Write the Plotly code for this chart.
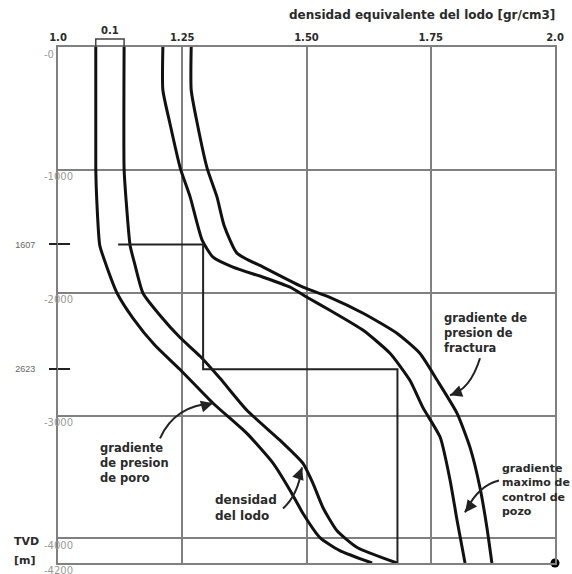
import plotly.graph_objects as go

# ---------------- data (TVD in metres, positive downward) ----------------
pore_x = [1.076, 1.076, 1.078, 1.084, 1.097, 1.119, 1.151, 1.195, 1.245, 1.312, 1.380, 1.433, 1.467, 1.493, 1.527, 1.567, 1.632]
pore_tvd = [0, 994, 1246, 1613, 1776, 2004, 2208, 2428, 2623, 2900, 3145, 3389, 3609, 3797, 3993, 4099, 4200]

mud_x = [1.133, 1.133, 1.137, 1.145, 1.155, 1.171, 1.205, 1.245, 1.286, 1.326, 1.380, 1.447, 1.493, 1.513, 1.533, 1.561, 1.602, 1.682]
mud_tvd = [0, 994, 1246, 1613, 1776, 2004, 2183, 2363, 2517, 2697, 2957, 3202, 3389, 3552, 3748, 3935, 4074, 4200]

ctrl_x = [1.211, 1.211, 1.225, 1.246, 1.266, 1.290, 1.312, 1.352, 1.413, 1.467, 1.501, 1.547, 1.614, 1.668, 1.708, 1.734, 1.769, 1.789, 1.803, 1.819]
ctrl_tvd = [0, 350, 619, 986, 1222, 1572, 1711, 1792, 1874, 1955, 2037, 2143, 2306, 2493, 2713, 2933, 3177, 3528, 3854, 4200]

frac_x = [1.268, 1.268, 1.280, 1.300, 1.320, 1.334, 1.360, 1.413, 1.493, 1.547, 1.614, 1.682, 1.728, 1.763, 1.803, 1.829, 1.849, 1.863, 1.873]
frac_tvd = [0, 350, 619, 986, 1222, 1450, 1678, 1792, 1955, 2037, 2167, 2330, 2493, 2713, 2982, 3259, 3585, 3911, 4200]

step_x = [1.121, 1.292, 1.292, 1.683, 1.683]
step_tvd = [1607, 1607, 2623, 2623, 4200]

x_ticks = [1.0, 1.25, 1.5, 1.75, 2.0]
x_ticktext = ["1.0", "1.25", "1.50", "1.75", "2.0"]
y_grid = [0, 1000, 2000, 3000, 4000, 4200]
y_gridtext = ["-0", "-1000", "-2000", "-3000", "-4000", "-4200"]
casing_tvd = [1607, 2623]
casing_text = ["1607", "2623"]

GRID = "#808080"
INK = "#111111"
TXT = "#2a2a2a"
FONT = "DejaVu Sans"

fig = go.Figure()
for xs, ds in [(pore_x, pore_tvd), (mud_x, mud_tvd), (ctrl_x, ctrl_tvd), (frac_x, frac_tvd)]:
    fig.add_trace(go.Scatter(x=xs, y=[-d for d in ds], mode="lines",
                             line=dict(color=INK, width=3, shape="spline", smoothing=0.55),
                             showlegend=False, hoverinfo="skip"))
fig.add_trace(go.Scatter(x=step_x, y=[-d for d in step_tvd], mode="lines",
                         line=dict(color="#222222", width=2), showlegend=False, hoverinfo="skip"))
fig.add_trace(go.Scatter(x=[x_ticks[-1]], y=[-y_grid[-1]], mode="markers",
                         marker=dict(color="black", size=9), cliponaxis=False,
                         showlegend=False, hoverinfo="skip"))
# carriers for the casing-depth tick axes
fig.add_trace(go.Scatter(x=[None], y=[None], yaxis="y2", showlegend=False))
fig.add_trace(go.Scatter(x=[None], y=[None], yaxis="y3", showlegend=False))

yr = [-y_grid[-1], 0]
fig.update_layout(
    width=572, height=574,
    margin=dict(l=58, r=17, t=47, b=11, autoexpand=False),
    paper_bgcolor="white", plot_bgcolor="white",
    font=dict(family=FONT, color=TXT),
    xaxis=dict(range=[x_ticks[0], x_ticks[-1]], side="top", tickvals=x_ticks, ticktext=x_ticktext,
               showgrid=True, gridcolor=GRID, gridwidth=2, zeroline=False, automargin=False,
               showline=True, mirror=True, linecolor=GRID, linewidth=2, ticks="",
               ticklabeloverflow="allow",
               tickfont=dict(size=10, family=FONT, color=TXT, weight="bold")),
    yaxis=dict(range=yr, tickvals=[-v for v in y_grid], ticktext=y_gridtext,
               showgrid=True, gridcolor=GRID, gridwidth=2, zeroline=False, automargin=False,
               showline=True, mirror=True, linecolor=GRID, linewidth=2, ticks="",
               ticklabelposition="inside", ticklabelstandoff=-15, ticklabelshift=7,
               ticklabeloverflow="allow",
               tickfont=dict(size=10, family=FONT, color="#9a9a9a")),
    yaxis2=dict(range=yr, overlaying="y", anchor="x", side="left", automargin=False,
                tickvals=[-v for v in casing_tvd], ticktext=casing_text,
                showgrid=False, zeroline=False, showline=False,
                ticks="outside", ticklen=8, tickwidth=2, tickcolor="#222222",
                ticklabelstandoff=12,
                tickfont=dict(size=9, family="Liberation Sans", color="#666666")),
    yaxis3=dict(range=yr, overlaying="y", anchor="x", side="left", automargin=False,
                tickvals=[-v for v in casing_tvd], showticklabels=False,
                showgrid=False, zeroline=False, showline=False,
                ticks="inside", ticklen=12, tickwidth=2, tickcolor="#222222"),
)

# title along the top
fig.add_annotation(text="densidad equivalente del lodo [gr/cm3]", xref="paper", yref="paper",
                   x=1.004, y=1.062, xanchor="right", yanchor="middle", showarrow=False,
                   font=dict(size=12, family=FONT, color=TXT, weight="bold"))
# 0.1 bracket between pore and mud curves
fig.add_annotation(text="0.1", xref="x", yref="paper", x=(pore_x[0] + mud_x[0]) / 2, y=1.017,
                   yanchor="bottom", showarrow=False,
                   font=dict(size=10, family=FONT, color=TXT, weight="bold"))
fig.add_shape(type="path", xref="x", yref="paper",
              path=f"M {pore_x[0]} 1.0 L {pore_x[0]} 1.0155 L {mud_x[0]} 1.0155 L {mud_x[0]} 1.0",
              line=dict(color="#444444", width=1.5))
# TVD label (two lines)
for t, yv in [("TVD", -4025), ("[m]", -4180)]:
    fig.add_annotation(text=t, xref="paper", yref="y", x=-0.092, y=yv,
                       xanchor="left", yanchor="middle", align="left", showarrow=False,
                       font=dict(size=11, family=FONT, color=TXT, weight="bold"))

labels = [
    ("gradiente<br>de presion<br>de poro", 1.0805, -3389, 11.5),
    ("densidad<br>del lodo", 1.312, -3756, 12),
    ("gradiente<br>maximo de<br>control de<br>pozo", 1.889, -3609, 11),
    ("gradiente de<br>presion de<br>fractura", 1.7726, -2330, 11.5),
]
for t, x, y, s in labels:
    fig.add_annotation(text=t, x=x, y=y, xanchor="left", yanchor="middle", align="left",
                       showarrow=False, font=dict(size=s, family=FONT, color=TXT, weight="bold"))

# curved pointer arrows: (tail, control, head, head offset px)
arrows = [
    ((1.2052, -3185), (1.2354, -2917), (1.3119, -2900), (-11, 3)),
    ((1.4527, -3756), (1.4829, -3650), (1.4909, -3422), (-4, 11)),
    ((1.8873, -3528), (1.8451, -3568), (1.8189, -3788), (7, -9)),
    ((1.8491, -2534), (1.8290, -2794), (1.7887, -2835), (11, -4)),
]
for (tx, ty), (cx, cy), (hx, hy), (ax, ay) in arrows:
    fig.add_shape(type="path", xref="x", yref="y",
                  path=f"M {tx} {ty} Q {cx} {cy} {hx} {hy}",
                  line=dict(color="#222222", width=2))
    fig.add_annotation(x=hx, y=hy, ax=ax, ay=ay, text="", showarrow=True,
                       arrowhead=2, arrowsize=1.2, arrowwidth=2, arrowcolor="#222222")

fig.write_html("out.html", config={"displayModeBar": False},
               post_script="document.body.style.margin='0';")
